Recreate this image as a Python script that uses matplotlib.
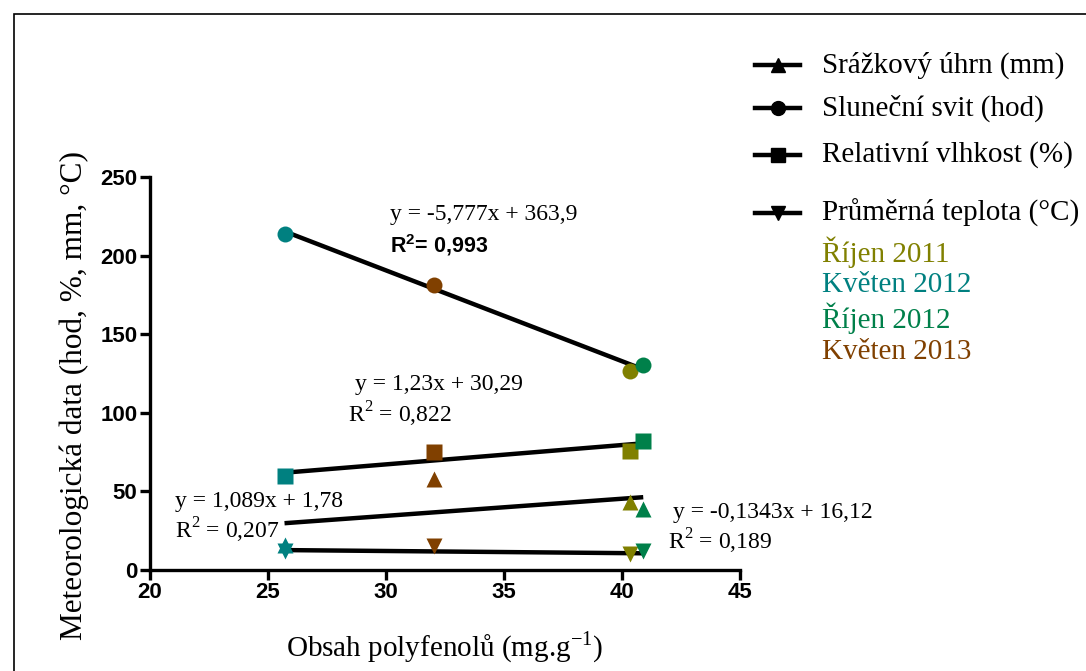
import matplotlib
matplotlib.use("Agg")
import matplotlib.pyplot as plt
from matplotlib.lines import Line2D
from matplotlib.patches import Rectangle
import numpy as np

plt.rcParams["mathtext.fontset"] = "custom"
plt.rcParams["mathtext.rm"] = "Liberation Serif"
plt.rcParams["mathtext.bf"] = "Liberation Sans:bold"

# Data: polyphenol content (x) for each sampling period
periods = ["Říjen 2011", "Květen 2012", "Říjen 2012", "Květen 2013"]
period_colors = ["#808000", "#008080", "#00804a", "#804000"]
polyfenoly = [40.35, 25.7, 40.9, 32.05]

# Meteorological data for each period (same order as periods)
srazky = [43, 16, 39, 58]            # Srážkový úhrn (mm)
slunce = [126.5, 214, 130.5, 181.5]  # Sluneční svit (hod)
vlhkost = [76, 59.5, 82, 75]         # Relativní vlhkost (%)
teplota = [10, 12, 12, 15]           # Průměrná teplota (°C)

# Regression coefficients (slope, intercept) from the original
fits = {
    "srazky": (1.089, 1.78),
    "slunce": (-5.777, 363.9),
    "vlhkost": (1.23, 30.29),
    "teplota": (-0.1343, 16.12),
}

series = [
    ("srazky", srazky, "^", "Srážkový úhrn (mm)"),
    ("slunce", slunce, "o", "Sluneční svit (hod)"),
    ("vlhkost", vlhkost, "s", "Relativní vlhkost (%)"),
    ("teplota", teplota, "v", "Průměrná teplota (°C)"),
]

W, H = 1086, 671
fig = plt.figure(figsize=(W / 100, H / 100), dpi=100)
ax = fig.add_axes([150 / W, 1 - 570 / H, 590 / W, 393 / H])

serif = "Liberation Serif"

# Regression lines
x_fit = np.array([min(polyfenoly), max(polyfenoly)])
for key, vals, mk, lab in series:
    k, q = fits[key]
    ax.plot(x_fit, k * x_fit + q, color="black", lw=3.2, zorder=2,
            solid_capstyle="butt")

# Points coloured by period
for key, vals, mk, lab in series:
    for xi, yi, c in zip(polyfenoly, vals, period_colors):
        ax.plot(xi, yi, marker=mk, color=c, ms=11.5, mec="none",
                linestyle="none", zorder=3, clip_on=False)

# Equation labels
eq_font = {"family": serif, "size": 17}
ax.text(30.17, 226, "y = -5,777x + 363,9", va="center", fontdict=eq_font)
ax.text(30.17, 207, "R$^\\mathbf{2}$= 0,993", va="center",
        family="Liberation Sans", weight="bold", size=15.5)
ax.text(28.69, 118, "y = 1,23x + 30,29", va="center", fontdict=eq_font)
ax.text(28.39, 99, "R$^2$ = 0,822", va="center", fontdict=eq_font)
ax.text(21.06, 43.5, "y = 1,089x + 1,78", va="center", fontdict=eq_font)
ax.text(21.06, 25, "R$^2$ = 0,207", va="center", fontdict=eq_font)
ax.text(42.16, 36.5, "y = -0,1343x + 16,12", va="center", fontdict=eq_font,
        clip_on=False)
ax.text(41.95, 18.5, "R$^2$ = 0,189", va="center", fontdict=eq_font,
        clip_on=False)

# Axes styling
ax.set_xlim(20, 45)
ax.set_ylim(0, 250)
ax.set_xticks(np.arange(20, 46, 5))
ax.set_yticks(np.arange(0, 251, 50))
for s in ["top", "right"]:
    ax.spines[s].set_visible(False)
for s in ["left", "bottom"]:
    ax.spines[s].set_linewidth(2.4)
ax.tick_params(width=2.4, length=7, direction="out", pad=2)
for lab in ax.get_xticklabels() + ax.get_yticklabels():
    lab.set_fontfamily("Liberation Sans")
    lab.set_fontweight("bold")
    lab.set_fontsize(16)

ax.set_xlabel("Obsah polyfenolů (mg.g$^{\\mathregular{-1}}$)", family=serif,
              size=21, va="top")
ax.xaxis.set_label_coords(0.5, -0.152)
ax.set_ylabel("Meteorologická data (hod, %, mm, °C)", family=serif, size=22.5)
ax.yaxis.set_label_coords(-0.104, 0.445)

# Legend (drawn by hand to keep the original spacing)
def fx(px):
    return px / W

def fy(py):
    return 1 - py / H

leg_rows = [65, 108, 155, 213]
for (key, vals, mk, lab), py in zip(series, leg_rows):
    fig.add_artist(Line2D([fx(755), fx(778), fx(800)], [fy(py)] * 3,
                          transform=fig.transFigure, color="black", lw=3.2,
                          marker=mk, markevery=[1], ms=10))
    fig.text(fx(822), fy(py), lab, family=serif, size=21, va="center")

for name, c, py in zip(periods, period_colors, [252, 285, 318, 352]):
    fig.text(fx(822), fy(py), name, family=serif, size=21, va="center",
             color=c)

# Frame around the whole figure
fig.add_artist(Rectangle((fx(14), -0.01), 1.0, fy(14) + 0.01,
                         transform=fig.transFigure, fill=False,
                         edgecolor="black", lw=1.2))

fig.savefig("out.png", dpi=100)
